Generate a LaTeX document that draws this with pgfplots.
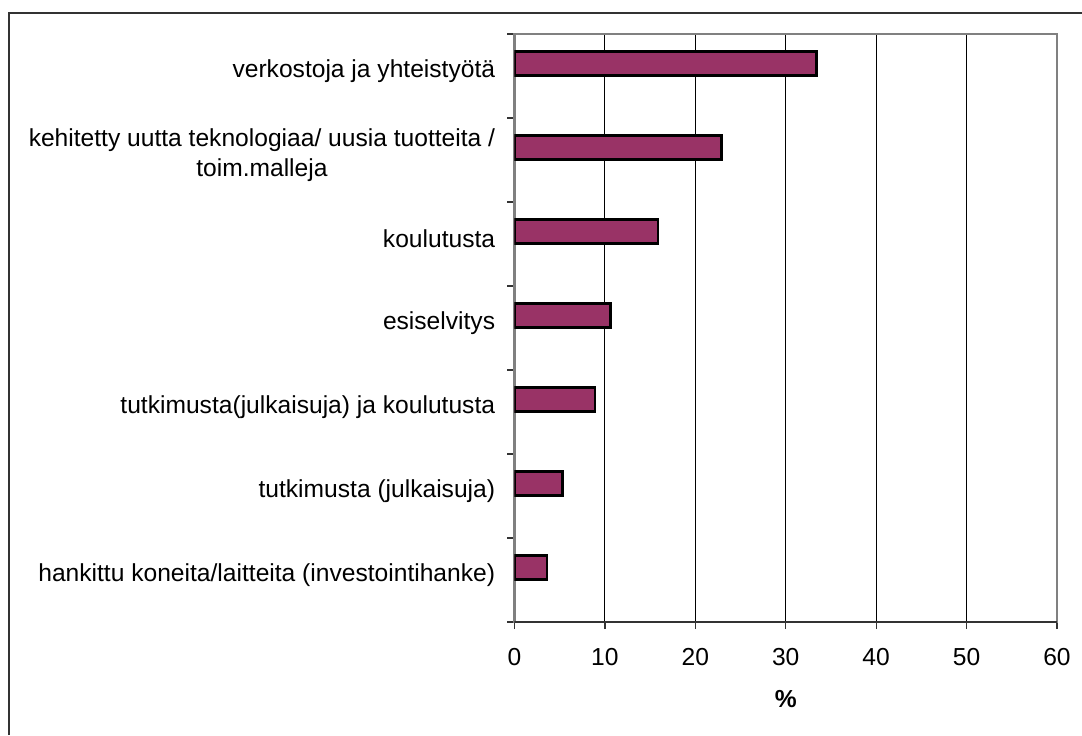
\documentclass[border=0pt]{standalone}
\usepackage{pgfplots}
\pgfplotsset{compat=1.18}
\usepackage{fontspec}
\setmainfont{Liberation Sans}
\definecolor{barc}{RGB}{153,51,102}
\begin{document}
\fontsize{12.3}{15}\selectfont
\begin{tikzpicture}
\useasboundingbox (0,0) rectangle (541pt,-367.5pt);
\draw[line width=1pt, black!80] (4.25pt,-367.5pt) -- (4.25pt,-6.5pt) -- (541pt,-6.5pt);
\begin{axis}[
  at={(257.25pt,-311pt)}, anchor=south west,
  scale only axis, width=271.25pt, height=294pt,
  xbar, bar width=12pt, bar shift=6.25pt,
  xmin=0, xmax=60, ymin=0.5, ymax=7.5,
  xtick={0,10,...,60},
  ytick={0.5,1.5,...,7.5},
  yticklabels={},
  extra y ticks={1,2,3,4,5,6,7},
  extra y tick labels={{hankittu koneita/laitteita (investointihanke)},{tutkimusta (julkaisuja)},{tutkimusta(julkaisuja) ja koulutusta},{esiselvitys},{koulutusta},{kehitetty uutta teknologiaa/ uusia tuotteita /\\toim.malleja},{verkostoja ja yhteistyötä}},
  extra y tick style={major tick length=0pt, tick style={draw=none}, yticklabel style={align=center, xshift=-5.4pt, yshift=2.5pt}},
  tick align=outside,
  major tick length=3.5pt,
  tick style={black!80, line width=0.6pt},
  xtick pos=bottom, ytick pos=left,
  xmajorgrids, grid style={black, line width=0.5pt},
  axis line style={gray, line width=1.1pt},
  tick label style={font=\fontsize{12.3}{15}\selectfont},
  /pgf/number format/assume math mode=true,
  xticklabel style={yshift=-5.5pt},
  xlabel={\textbf{\%}},
  xlabel style={at={(axis description cs:0.5,0)}, anchor=center, yshift=-38.5pt, font=\fontsize{12.3}{15}\selectfont},
]
\addplot[fill=barc, draw=black, line width=1.2pt] coordinates {
(3.6,1) (5.3,2) (8.9,3) (10.6,4) (15.9,5) (22.9,6) (33.4,7)
};
\draw[black!80, line width=1pt] (axis cs:0,0.5) -- (axis cs:60,0.5);
\end{axis}
\end{tikzpicture}
\end{document}
